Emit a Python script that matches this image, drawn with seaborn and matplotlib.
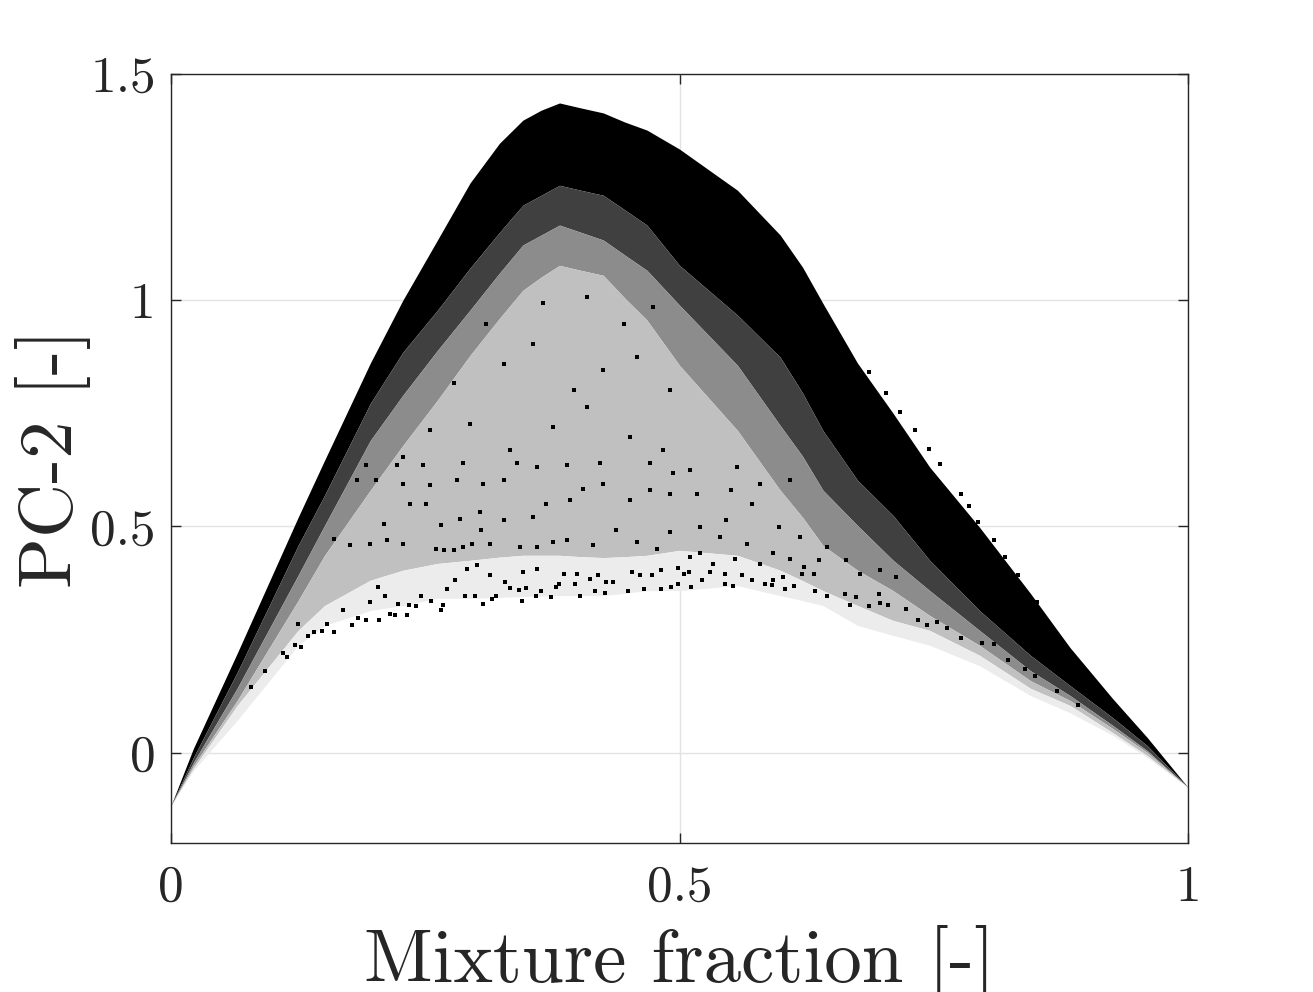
# plot.py
# Mixture fraction vs PC-2: envelope, density bands and visible points

import seaborn as sns
import matplotlib.pyplot as plt
import pandas as pd

# -----------------------------
# 1. Values
# -----------------------------
x_stations = [0, .022, .065, .125, .151, .196, .228, .262, .294, .323, .346, .364, .382, .403, .425, .446, .468,
              .5, .557, .599, .621, .641, .675, .710, .746, .795, .845, .884, .926, .960, 1]

# top edge of the cloud
upper_edge = [-.117, .009, .219, .520, .646, .861, 1.0, 1.133, 1.259, 1.347, 1.398, 1.420, 1.436, 1.425, 1.414, 1.394, 1.376,
              1.334, 1.243, 1.144, 1.073, .993, .861, .75, .631, .498, .352, .232, .119, .033, -.077]
# where the solid black stops
solid_edge = [-.117, -.011, .177, .458, .569, .772, .885, .978, 1.071, 1.150, 1.210, 1.232, 1.254, 1.243, 1.232, 1.200, 1.166,
              1.077, .967, .874, .795, .712, .602, .524, .425, .314, .215, .148, .077, .015, -.077]
# where heavy speckle stops
heavy_edge = [-.117, -.022, .142, .392, .502, .690, .790, .889, .978, 1.060, 1.122, 1.144, 1.166, 1.150, 1.133, 1.100, 1.066,
              .989, .856, .723, .655, .580, .502, .425, .358, .270, .181, .126, .060, .004, -.077]
# where medium speckle stops
medium_edge = [-.117, -.029, .115, .336, .436, .580, .679, .779, .878, .960, 1.022, 1.051, 1.077, 1.066, 1.055, 1.005, .956,
               .856, .712, .580, .520, .458, .403, .358, .303, .237, .159, .115, .053, 0, -.077]
# where light speckle stops
light_edge = [-.117, -.035, .104, .270, .325, .381, .403, .418, .425, .432, .436, .436, .436, .433, .431, .433, .436,
              .447, .436, .403, .380, .358, .325, .292, .270, .215, .142, .104, .044, -.007, -.077]
# bottom of the sparse fringe
sparse_edge = [-.117, -.040, .071, .237, .281, .314, .325, .341, .341, .343, .345, .346, .347, .347, .347, .352, .358,
               .358, .369, .347, .336, .325, .281, .259, .237, .192, .126, .088, .038, -.011, -.077]

# isolated points that can be picked out by eye
fringe_x = [.079, .092, .114, .128, .122, .110, .135, .160, .148, .141, .178, .205, .192, .184, .232,
            .220, .215, .265, .267, .256, .234, .241, .223, .307, .289, .299, .316, .320, .345, .359,
            .374, .364, .402, .417, .427, .449, .465, .482, .492, .499, .333, .342, .349, .382, .397,
            .379, .412, .428, .435, .461, .473, .482, .499, .453, .420, .399, .386, .360, .346, .328,
            .314, .301, .291, .279, .271, .246, .210, .204, .196, .169, .153, .125,
            .511, .522, .545, .553, .571, .584, .591, .604, .613, .633, .645, .668, .686, .697, .705,
            .723, .735, .743, .753, .763, .777, .797, .809, .823, .840, .850, .871, .892, .530, .561,
            .545, .504, .509, .620, .632, .592, .602, .663, .674, .696,
            .686, .703, .717, .732, .745, .756, .777, .785, .794, .809, .820, .833, .852,
            .261, .268, .278, .287, .296, .305, .314, .343, .360, .376, .389, .415, .438, .458, .478,
            .491, .228, .212, .196, .176, .160, .209, .235, .251, .265, .284, .304, .327, .356, .369,
            .392, .405, .425, .451, .471, .491, .360, .327, .307, .281, .255, .228, .202, .183, .192,
            .222, .248, .287, .340, .389, .422, .471, .494,
            .510, .520, .533, .540, .555, .566, .579, .592, .609, .622, .637, .645, .664, .677, .697,
            .713, .520, .546, .571, .598, .618, .517, .551, .579, .609, .510, .557,
            .294, .327, .356, .396, .425, .458, .491, .333, .376, .409, .451, .484, .278, .255, .228,
            .310, .366, .409, .445, .474]
fringe_y = [.145, .180, .212, .233, .237, .220, .257, .266, .268, .266, .281, .292, .294, .298, .303,
            .305, .307, .316, .327, .335, .327, .325, .329, .328, .346, .347, .340, .347, .336, .346,
            .344, .358, .347, .356, .353, .356, .361, .361, .367, .373, .364, .360, .364, .373, .373,
            .366, .384, .378, .378, .392, .393, .403, .408, .399, .392, .395, .395, .406, .399, .377,
            .392, .414, .406, .381, .362, .347, .345, .366, .333, .314, .285, .285,
            .366, .381, .372, .369, .381, .372, .371, .362, .369, .358, .347, .327, .325, .330, .327,
            .318, .294, .282, .288, .275, .253, .243, .240, .204, .185, .170, .137, .104, .399, .392,
            .395, .395, .400, .395, .395, .381, .388, .351, .344, .351,
            .841, .795, .753, .714, .672, .637, .572, .544, .510, .469, .432, .392, .333,
            .451, .447, .447, .454, .462, .491, .462, .454, .454, .465, .469, .458, .491, .465, .451,
            .487, .462, .469, .462, .458, .473, .506, .550, .550, .502, .517, .532, .513, .521, .550,
            .558, .583, .594, .558, .580, .572, .631, .602, .594, .602, .591, .594, .602, .602, .635,
            .635, .635, .639, .639, .635, .639, .639, .617,
            .432, .440, .417, .476, .428, .462, .417, .440, .428, .410, .425, .454, .425, .395, .403,
            .388, .499, .513, .550, .499, .476, .572, .580, .594, .602, .624, .631,
            .727, .860, .904, .801, .845, .875, .801, .668, .720, .764, .698, .668, .816, .712, .653,
            .948, .993, 1.007, .948, .985]

x_ticks = [0, 0.5, 1]
x_tick_labels = ["0", "0.5", "1"]
y_ticks = [0, 0.5, 1, 1.5]
y_tick_labels = ["0", "0.5", "1", "1.5"]

df = pd.DataFrame({"x": x_stations, "top": upper_edge, "solid": solid_edge, "heavy": heavy_edge,
                   "medium": medium_edge, "light": light_edge, "sparse": sparse_edge})
fringe = pd.DataFrame({"x": fringe_x, "y": fringe_y})

# -----------------------------
# 2. Figure
# -----------------------------
sns.set_style("ticks")
plt.rcParams["font.family"] = ["cmr10", "DejaVu Serif"]
plt.rcParams["axes.formatter.use_mathtext"] = True

fig = plt.figure(figsize=(13.13, 9.92), dpi=100)
ax = fig.add_axes([171 / 1313, 1 - 843 / 992, 1017 / 1313, 769 / 992])
ax.grid(True, color="#e2e2e2", linewidth=1)
ax.set_axisbelow(True)

# density bands, darkest on top of the cloud
bands = [("top", "solid", "#000000"), ("solid", "heavy", "#404040"), ("heavy", "medium", "#8c8c8c"),
         ("medium", "light", "#c0c0c0"), ("light", "sparse", "#ececec")]
for upper, lower, colour in bands:
    ax.fill_between(df["x"], df[lower], df[upper], color=colour, linewidth=0, zorder=2)

sns.scatterplot(data=fringe, x="x", y="y", color="black", s=5, marker="s", linewidth=0, ax=ax, zorder=3)

ax.set_xlim(0, 1)
ax.set_ylim(-0.2, 1.5)
ax.set_xticks(x_ticks, x_tick_labels)
ax.set_yticks(y_ticks, y_tick_labels)
ax.tick_params(direction="in", length=7, width=1, color="#262626", labelcolor="#262626",
               labelsize=37, top=True, right=True)
ax.tick_params(axis="x", pad=16)
ax.tick_params(axis="y", pad=11)
for spine in ax.spines.values():
    spine.set_visible(True)
    spine.set_color("#262626")
    spine.set_linewidth(1)

ax.set_xlabel("Mixture fraction [-]", fontsize=54, color="#262626", labelpad=10)
ax.set_ylabel("PC-2 [-]", fontsize=54, color="#262626", labelpad=-1)

# -----------------------------
# 3. Export
# -----------------------------
fig.savefig("out.png", dpi=100)
plt.close(fig)
